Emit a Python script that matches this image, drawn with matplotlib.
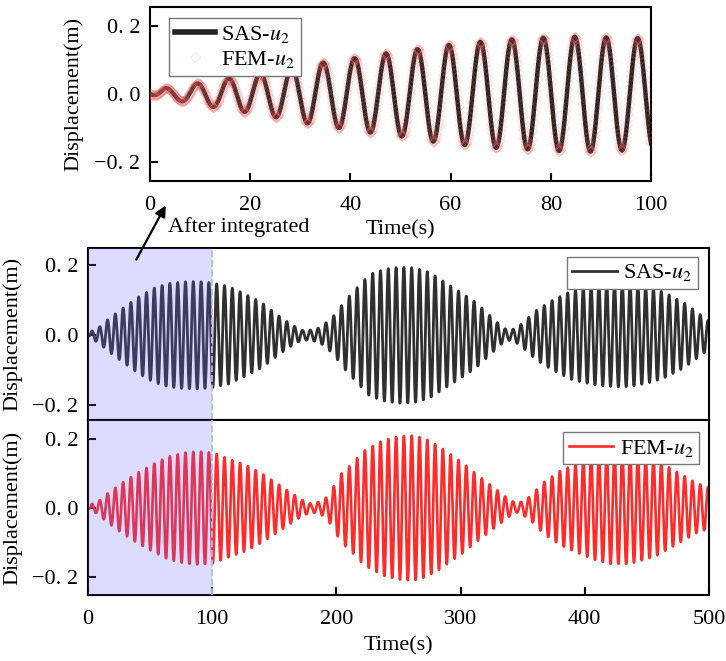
import numpy as np
import matplotlib
matplotlib.use("Agg")
import matplotlib.pyplot as plt
from matplotlib.patches import FancyArrowPatch

plt.rcParams["font.family"] = ["Liberation Serif", "DejaVu Serif"]
plt.rcParams["mathtext.fontset"] = "stix"

# ---- data ----
# carrier period of the oscillation (about 16 cycles per 100 s)
CARRIER_PERIOD = 6.28

# inset (0-100 s, after integration): envelope knots (s, m)
TOP_ENV_T = [0, 3, 6, 9, 12.2, 15.5, 18.7, 21.9, 25.1, 28.2, 31.4, 34.5, 37.8, 40.8, 44.0,
             47.7, 50.5, 53.7, 56.7, 59.7, 62.9, 66.1, 69.3, 71.9, 75.3, 78.3, 81.8, 84.5,
             87.8, 90.5, 93.7, 96.9, 100]
TOP_ENV_A = [0.0, 0.017, 0.02, 0.03, 0.037, 0.045, 0.052, 0.058, 0.068, 0.075, 0.086, 0.092,
             0.100, 0.105, 0.113, 0.120, 0.125, 0.132, 0.140, 0.144, 0.150, 0.153, 0.158,
             0.160, 0.162, 0.165, 0.167, 0.168, 0.169, 0.166, 0.166, 0.164, 0.163]

# SAS-u2 over 0-500 s: envelope knots
SAS_ENV_T = [0, 3, 8, 16, 29, 40, 53, 65, 77, 89, 100, 113, 127, 140, 153, 164, 172, 180, 187,
             197, 208, 219, 227, 240, 251, 263, 275, 286, 296, 312, 326, 333, 338, 343, 348,
             361, 374, 390, 409, 425, 436, 450, 463, 479, 490, 500]
SAS_ENV_A = [0.0, 0.012, 0.02, 0.045, 0.08, 0.108, 0.135, 0.148, 0.153, 0.154, 0.150, 0.140,
             0.117, 0.093, 0.057, 0.030, 0.014, 0.015, 0.022, 0.052, 0.103, 0.145, 0.175, 0.190,
             0.195, 0.193, 0.180, 0.155, 0.132, 0.095, 0.048, 0.025, 0.014, 0.018, 0.029, 0.071,
             0.100, 0.128, 0.143, 0.148, 0.147, 0.138, 0.124, 0.095, 0.067, 0.040]

# FEM-u2 over 0-500 s: envelope knots
FEM_ENV_T = [0, 3, 7, 15, 27, 39, 52, 64, 77, 89, 101, 115, 127, 140, 152, 164, 172, 180, 188,
             193, 204, 212, 222, 237, 250, 262, 272, 283, 302, 315, 329, 339, 346, 356, 366,
             380, 393, 408, 420, 436, 457, 476, 490, 500]
FEM_ENV_A = [0.0, 0.012, 0.015, 0.04, 0.072, 0.100, 0.126, 0.148, 0.160, 0.164, 0.160, 0.140,
             0.125, 0.100, 0.072, 0.043, 0.024, 0.012, 0.020, 0.034, 0.100, 0.126, 0.165, 0.195,
             0.207, 0.210, 0.200, 0.178, 0.130, 0.092, 0.053, 0.025, 0.012, 0.034, 0.072, 0.107,
             0.128, 0.150, 0.162, 0.162, 0.140, 0.101, 0.072, 0.060]

SHADE = (0, 100)
Y_TICKS = [-0.2, 0.0, 0.2]
Y_LABELS = ["\u22120. 2", "0. 0", "0. 2"]
TOP_X_TICKS = [0, 20, 40, 60, 80, 100]
BOT_X_TICKS = [0, 100, 200, 300, 400, 500]


def signal(t, env_t, env_a):
    return -np.interp(t, env_t, env_a) * np.cos(2 * np.pi * t / CARRIER_PERIOD)


W, H = 726, 661
FS = 16


def style(ax):
    for s in ax.spines.values():
        s.set_linewidth(1.5)
    ax.tick_params(direction="in", length=6, width=1.5, labelsize=FS, top=False, right=False)
    ax.set_yticks(Y_TICKS)
    ax.set_yticklabels(Y_LABELS)
    ax.tick_params(axis="y", pad=7)


fig = plt.figure(figsize=(W / 100, H / 100), dpi=100)
ax_top = fig.add_axes([150 / W, 1 - 181 / H, 501 / W, 174 / H])
ax_sas = fig.add_axes([88 / W, 1 - 420 / H, 621 / W, 172 / H])
ax_fem = fig.add_axes([88 / W, 1 - 595 / H, 621 / W, 175 / H])

# inset
t_top = np.linspace(0, 100, 2001)
t_mark = np.linspace(0, 100, 1001)
ax_top.plot(t_top, signal(t_top, TOP_ENV_T, TOP_ENV_A), color="#222222", lw=3.2,
            label="SAS-$u_2$", zorder=2)
ax_top.plot(t_mark, signal(t_mark, TOP_ENV_T, TOP_ENV_A), ls="none", marker="D", ms=5,
            mfc="none", mec="#ff6a6a", mew=0.7, alpha=0.2, label="FEM-$u_2$", zorder=3)
ax_top.set_xlim(0, 100); ax_top.set_ylim(-0.255, 0.255)
style(ax_top)
ax_top.set_xticks(TOP_X_TICKS)
ax_top.tick_params(axis="x", pad=11)
ax_top.set_xlabel("Time(s)", fontsize=FS)
ax_top.xaxis.set_label_coords(0.5, -0.225)
ax_top.set_ylabel("Displacement(m)", fontsize=FS)
ax_top.yaxis.set_label_coords(-0.132, 0.5)
leg = ax_top.legend(loc="upper left", bbox_to_anchor=(0.038, 0.937), fancybox=False,
                    edgecolor="#777777", framealpha=1, fontsize=FS, handlelength=1.8,
                    borderpad=0.25, labelspacing=0.2, handletextpad=0.3, borderaxespad=0,
                    numpoints=1)
leg.get_frame().set_linewidth(1.0)
leg.get_lines()[0].set_linewidth(4)

# full-length panels
t = np.linspace(0, 500, 6001)
ax_sas.plot(t, signal(t, SAS_ENV_T, SAS_ENV_A), color="#303030", lw=2.0, label="SAS-$u_2$")
ax_fem.plot(t, signal(t, FEM_ENV_T, FEM_ENV_A), color="#ff2a2a", lw=1.9, label="FEM-$u_2$")
ax_sas.set_ylim(-0.243, 0.25)
ax_fem.set_ylim(-0.252, 0.255)
for ax, anchor in ((ax_sas, (0.982, 0.948)), (ax_fem, (0.984, 0.931))):
    ax.set_xlim(0, 500)
    style(ax)
    ax.axvspan(*SHADE, color=(0.39, 0.39, 1.0), alpha=0.22, lw=0, zorder=3)
    ax.axvline(SHADE[1], color="#b4b8f2", ls="--", lw=1.3, zorder=3)
    ax.set_ylabel("Displacement(m)", fontsize=FS)
    ax.yaxis.set_label_coords(-0.106, 0.5)
    lg = ax.legend(loc="upper right", bbox_to_anchor=anchor, fancybox=False,
                   edgecolor="#777777", framealpha=1, fontsize=FS, handlelength=2.0,
                   borderpad=0.25, handletextpad=0.3, borderaxespad=0)
    lg.get_frame().set_linewidth(1.0)
    lg.set_zorder(6)

ax_sas.tick_params(axis="x", bottom=False, labelbottom=False)
ax_fem.set_xticks(BOT_X_TICKS)
ax_fem.tick_params(axis="x", pad=11)
ax_fem.set_xlabel("Time(s)", fontsize=FS)
ax_fem.xaxis.set_label_coords(0.5, -0.235)

# annotation between the inset and the full record
fig.text(168 / W, 1 - 227 / H, "After integrated", ha="left", va="center", fontsize=16)
fig.patches.append(FancyArrowPatch((135 / W, 1 - 262 / H), (167 / W, 1 - 203 / H),
                                   transform=fig.transFigure, arrowstyle="-|>",
                                   mutation_scale=16, lw=1.6, color="black", zorder=10))

fig.savefig("out.png", dpi=100)
